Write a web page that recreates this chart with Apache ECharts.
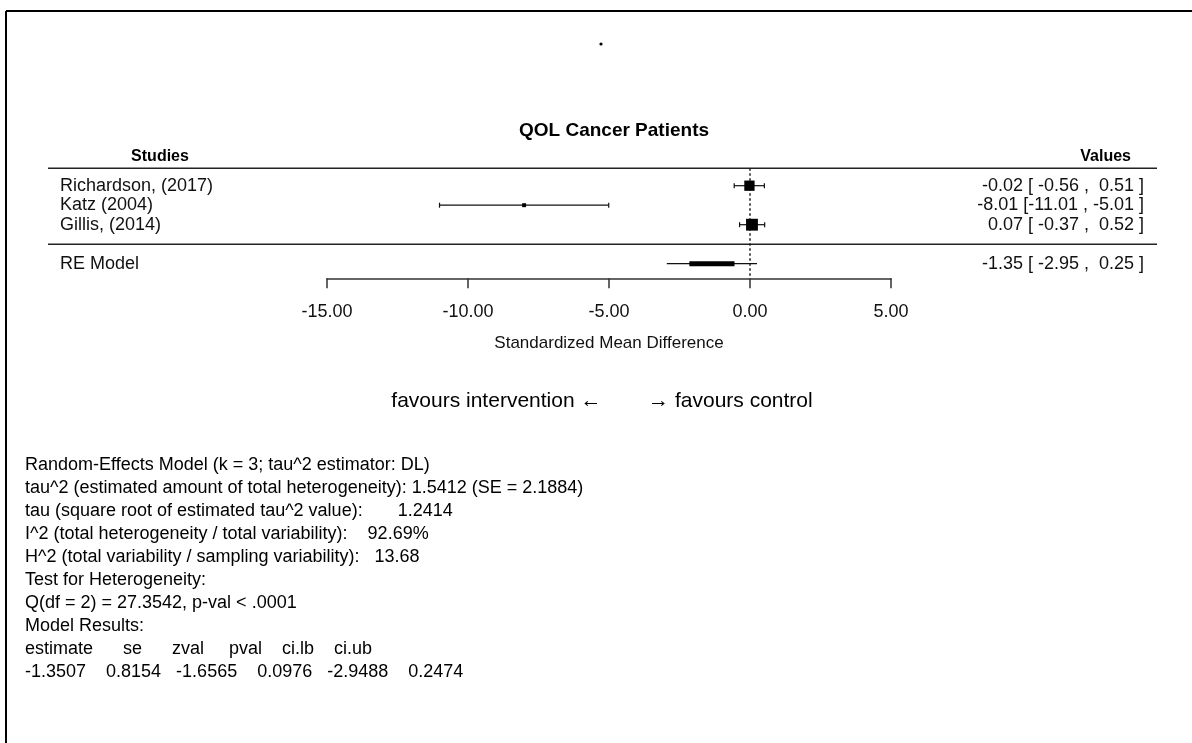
<!DOCTYPE html>
<html>
<head>
<meta charset="utf-8">
<script src="https://cdn.jsdelivr.net/npm/echarts@6/dist/echarts.min.js"></script>
<style>
html,body{margin:0;padding:0;background:#fff;}
#chart{width:1192px;height:743px;}
</style>
</head>
<body>
<div id="chart"></div>
<script>
// ---- data ----
const studies = ['Richardson, (2017)', 'Katz (2004)', 'Gillis, (2014)'];
const estimates = [-0.02, -8.01, 0.07];
const ciLower = [-0.56, -11.01, -0.37];
const ciUpper = [0.51, -5.01, 0.52];
const reLabel = ['RE Model'];
const reEstimate = [-1.35];
const reLower = [-2.95];
const reUpper = [0.25];
const xTicks = [-15, -10, -5, 0, 5];
const chartTitle = 'QOL Cancer Patients';
const axisTitle = 'Standardized Mean Difference';
const favoursText = 'favours intervention \u2190        \u2192 favours control';
const statsLines = [
  'Random-Effects Model (k = 3; tau^2 estimator: DL)',
  'tau^2 (estimated amount of total heterogeneity): 1.5412 (SE = 2.1884)',
  'tau (square root of estimated tau^2 value):       1.2414',
  'I^2 (total heterogeneity / total variability):    92.69%',
  'H^2 (total variability / sampling variability):   13.68',
  'Test for Heterogeneity:',
  'Q(df = 2) = 27.3542, p-val < .0001',
  'Model Results:',
  'estimate      se      zval     pval    ci.lb    ci.ub',
  '-1.3507    0.8154   -1.6565    0.0976   -2.9488    0.2474'
];

// ---- helpers ----
const FONT = '"Liberation Sans", Arial, sans-serif';
const fmt = v => v.toFixed(2);
const ciText = (e, l, u) => `${fmt(e).padStart(5)} [${fmt(l).padStart(6)} , ${fmt(u).padStart(5)} ]`;

// square size from inverse standard error (metafor style)
const se = ciLower.map((l, i) => (ciUpper[i] - l) / 3.92);
const w = se.map(s => 1 / s);
const wMin = Math.min(...w), wMax = Math.max(...w);
const psize = w.map(v => (v - wMin) / (wMax - wMin) + 0.5);

const LABEL_X = 60, VALUE_X = 1144, LINE_X0 = 48, LINE_X1 = 1157;
const TEXT_SIZE = 18;

const studyData = studies.map((s, i) => [estimates[i], i + 1, ciLower[i], ciUpper[i], psize[i], i]);
const reData = [[reEstimate[0], studies.length + 2, reLower[0], reUpper[0]]];

const chart = echarts.init(document.getElementById('chart'), null, {renderer: 'canvas'});

const option = {
  animation: false,
  backgroundColor: '#fff',
  grid: {left: 327, width: 564, top: 166.2, height: 112.1, containLabel: false},
  xAxis: {
    type: 'value', min: xTicks[0], max: xTicks[xTicks.length - 1], interval: 5,
    axisLine: {show: true, onZero: false, lineStyle: {color: '#333', width: 1.5}},
    axisTick: {show: true, length: 10, lineStyle: {color: '#333', width: 1.5}},
    axisLabel: {formatter: v => fmt(v), fontFamily: FONT, fontSize: TEXT_SIZE, color: '#111', margin: 25},
    splitLine: {show: false},
    name: axisTitle, nameLocation: 'middle', nameGap: 57,
    nameTextStyle: {fontFamily: FONT, fontSize: 17, color: '#111'}
  },
  yAxis: {type: 'value', min: 0, max: 5.75, inverse: true, show: false},
  graphic: [
    {type: 'line', shape: {x1: 6, y1: 11, x2: 1192, y2: 11}, style: {stroke: '#000', lineWidth: 2}},
    {type: 'line', shape: {x1: 6, y1: 11, x2: 6, y2: 743}, style: {stroke: '#000', lineWidth: 2}},
    {type: 'circle', shape: {cx: 601, cy: 44, r: 1.6}, style: {fill: '#000'}},
    {type: 'text', x: 614, y: 131, style: {text: chartTitle, font: `bold 19px ${FONT}`, fill: '#000', align: 'center', verticalAlign: 'middle'}},
    {type: 'text', x: 160, y: 157, style: {text: 'Studies', font: `bold 16px ${FONT}`, fill: '#000', align: 'center', verticalAlign: 'middle'}},
    {type: 'text', x: 1131, y: 157, style: {text: 'Values', font: `bold 16px ${FONT}`, fill: '#000', align: 'right', verticalAlign: 'middle'}},
    {type: 'text', x: 602, y: 401, style: {text: favoursText, font: `21px ${FONT}`, fill: '#000', align: 'center', verticalAlign: 'middle'}},
    {type: 'text', x: 25, y: 454, style: {text: statsLines.join('\n'), font: `18px ${FONT}`, lineHeight: 23, fill: '#000', verticalAlign: 'top'}}
  ],
  series: [
    {
      // decoration lines tied to the row scale
      type: 'custom', clip: false, silent: true,
      data: [[0]],
      renderItem: (params, api) => {
        const yHead = api.coord([0, 0.1])[1];
        const ySep = api.coord([0, studies.length + 1])[1];
        const zeroTop = api.coord([0, 0.1]);
        const zeroBot = api.coord([0, 5.75]);
        return {type: 'group', children: [
          {type: 'line', shape: {x1: LINE_X0, y1: yHead, x2: LINE_X1, y2: yHead}, style: {stroke: '#222', lineWidth: 1.5}},
          {type: 'line', shape: {x1: LINE_X0, y1: ySep, x2: LINE_X1, y2: ySep}, style: {stroke: '#222', lineWidth: 1.5}},
          {type: 'line', shape: {x1: zeroTop[0], y1: zeroTop[1], x2: zeroBot[0], y2: zeroBot[1]}, style: {stroke: '#222', lineWidth: 1.5, lineDash: [2.5, 2.5]}}
        ]};
      }
    },
    {
      type: 'custom', clip: false, silent: true,
      data: studyData,
      renderItem: (params, api) => {
        const est = api.value(0), row = api.value(1), lo = api.value(2), hi = api.value(3), ps = api.value(4), idx = api.value(5);
        const p = api.coord([est, row]);
        const pl = api.coord([lo, row]);
        const ph = api.coord([hi, row]);
        const s = ps * 7.9;
        const cap = 2.5;
        return {type: 'group', children: [
          {type: 'line', shape: {x1: pl[0], y1: p[1], x2: ph[0], y2: p[1]}, style: {stroke: '#111', lineWidth: 1.2}},
          {type: 'line', shape: {x1: pl[0], y1: p[1] - cap, x2: pl[0], y2: p[1] + cap}, style: {stroke: '#111', lineWidth: 1.2}},
          {type: 'line', shape: {x1: ph[0], y1: p[1] - cap, x2: ph[0], y2: p[1] + cap}, style: {stroke: '#111', lineWidth: 1.2}},
          {type: 'rect', shape: {x: p[0] - s / 2, y: p[1] - s / 2, width: s, height: s}, style: {fill: '#000'}},
          {type: 'text', x: LABEL_X, y: p[1], style: {text: studies[idx], font: `${TEXT_SIZE}px ${FONT}`, fill: '#111', align: 'left', verticalAlign: 'middle'}},
          {type: 'text', x: VALUE_X, y: p[1], style: {text: ciText(est, lo, hi), font: `${TEXT_SIZE}px ${FONT}`, fill: '#111', align: 'right', verticalAlign: 'middle'}}
        ]};
      }
    },
    {
      type: 'custom', clip: false, silent: true,
      data: reData,
      renderItem: (params, api) => {
        const est = api.value(0), row = api.value(1), lo = api.value(2), hi = api.value(3);
        const p = api.coord([est, row]);
        const pl = api.coord([lo, row]);
        const ph = api.coord([hi, row]);
        const tl = api.coord([est - (est - lo) / 2, row]);
        const th = api.coord([est + (hi - est) / 2, row]);
        return {type: 'group', children: [
          {type: 'line', shape: {x1: pl[0], y1: p[1], x2: ph[0], y2: p[1]}, style: {stroke: '#111', lineWidth: 1.2}},
          {type: 'rect', shape: {x: tl[0], y: p[1] - 2.5, width: th[0] - tl[0], height: 5}, style: {fill: '#000'}},
          {type: 'text', x: LABEL_X, y: p[1], style: {text: reLabel[0], font: `${TEXT_SIZE}px ${FONT}`, fill: '#111', align: 'left', verticalAlign: 'middle'}},
          {type: 'text', x: VALUE_X, y: p[1], style: {text: ciText(est, lo, hi), font: `${TEXT_SIZE}px ${FONT}`, fill: '#111', align: 'right', verticalAlign: 'middle'}}
        ]};
      }
    }
  ]
};
chart.setOption(option);
</script>
</body>
</html>
